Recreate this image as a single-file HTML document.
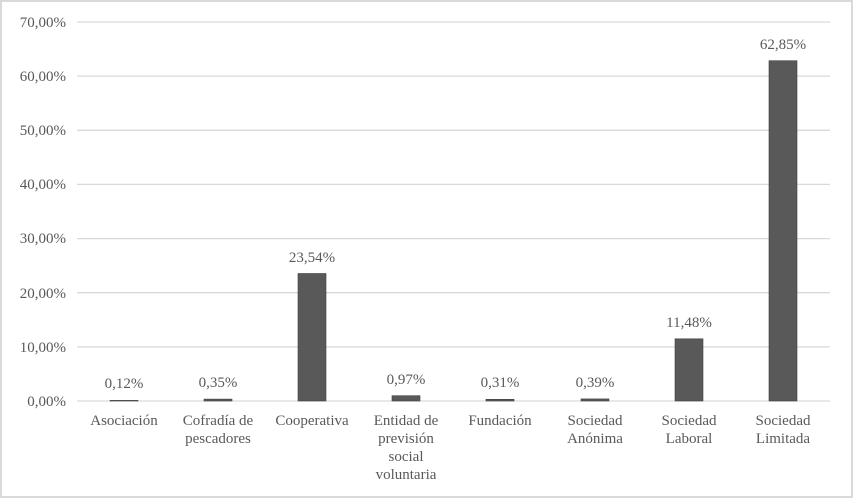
<!DOCTYPE html>
<html><head><meta charset="utf-8"><style>
body{margin:0;background:#fff}
</style></head><body>
<svg width="853" height="498" xmlns="http://www.w3.org/2000/svg" font-family="'Liberation Serif', 'Times New Roman', 'DejaVu Serif', serif" font-size="15" fill="#595959">
<rect x="1" y="1" width="851" height="496" fill="#fff" stroke="#d9d9d9" stroke-width="2"/>
<g stroke="#d9d9d9" stroke-width="1.3">
<line x1="77" x2="830" y1="22" y2="22"/>
<line x1="77" x2="830" y1="76.1" y2="76.1"/>
<line x1="77" x2="830" y1="130.3" y2="130.3"/>
<line x1="77" x2="830" y1="184.4" y2="184.4"/>
<line x1="77" x2="830" y1="238.6" y2="238.6"/>
<line x1="77" x2="830" y1="292.7" y2="292.7"/>
<line x1="77" x2="830" y1="346.9" y2="346.9"/>
<line x1="77" x2="830" y1="401" y2="401"/>
</g>
<g text-anchor="end" fill="#595959">
<text x="66" y="27">70,00%</text>
<text x="66" y="81">60,00%</text>
<text x="66" y="135">50,00%</text>
<text x="66" y="189">40,00%</text>
<text x="66" y="243">30,00%</text>
<text x="66" y="298">20,00%</text>
<text x="66" y="352">10,00%</text>
<text x="66" y="406">0,00%</text>
</g>
<g fill="#595959" stroke="#404040" stroke-width="0.6">
<rect x="110" y="400.4" width="28" height="0.6"/>
<rect x="204" y="399.1" width="28" height="1.9"/>
<rect x="298" y="273.5" width="28" height="127.5"/>
<rect x="392" y="395.7" width="28" height="5.3"/>
<rect x="486" y="399.3" width="28" height="1.7"/>
<rect x="581" y="398.9" width="28" height="2.1"/>
<rect x="675" y="338.8" width="28" height="62.2"/>
<rect x="769" y="60.7" width="28" height="340.3"/>
</g>
<g text-anchor="middle" fill="#595959">
<text x="124" y="388">0,12%</text>
<text x="218" y="387">0,35%</text>
<text x="312" y="262">23,54%</text>
<text x="406" y="384">0,97%</text>
<text x="500" y="387">0,31%</text>
<text x="595" y="387">0,39%</text>
<text x="689" y="327">11,48%</text>
<text x="783" y="49">62,85%</text>
<text x="124" y="425">Asociación</text>
<text x="218" y="425">Cofradía de</text><text x="218" y="443">pescadores</text>
<text x="312" y="425">Cooperativa</text>
<text x="406" y="425">Entidad de</text><text x="406" y="443">previsión</text><text x="406" y="461">social</text><text x="406" y="479">voluntaria</text>
<text x="500" y="425">Fundación</text>
<text x="595" y="425">Sociedad</text><text x="595" y="443">Anónima</text>
<text x="689" y="425">Sociedad</text><text x="689" y="443">Laboral</text>
<text x="783" y="425">Sociedad</text><text x="783" y="443">Limitada</text>
</g>
</svg>
</body></html>
